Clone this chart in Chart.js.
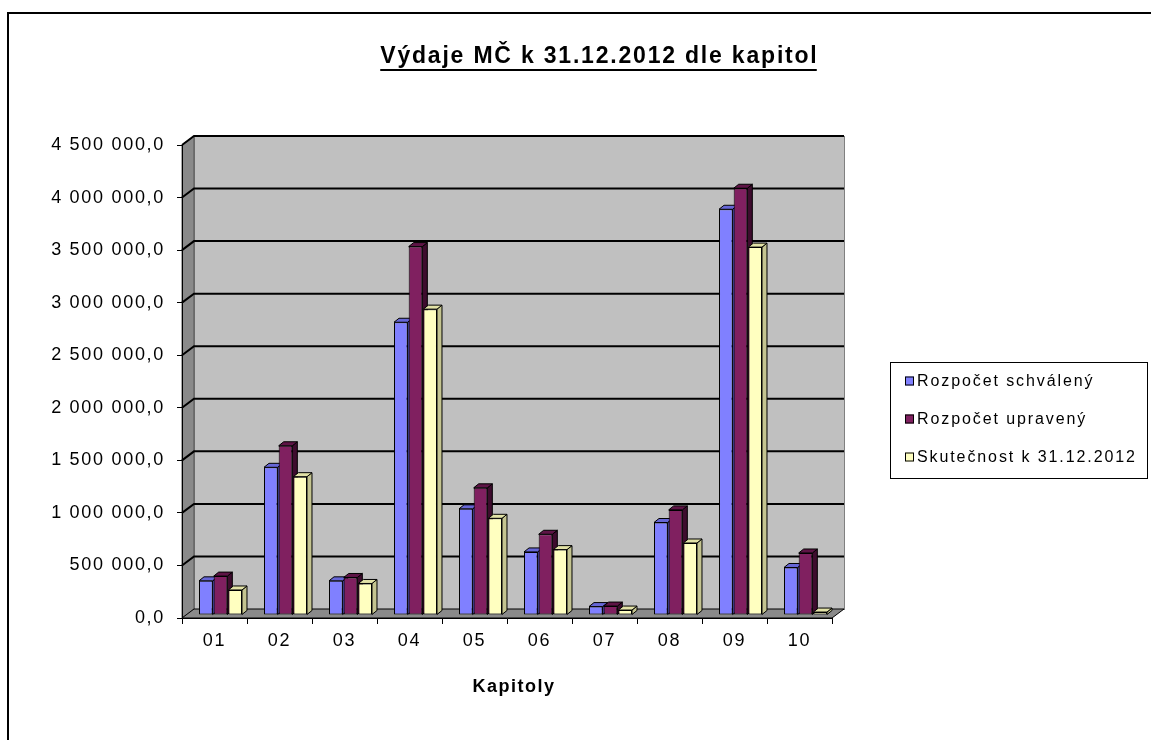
<!DOCTYPE html>
<html>
<head>
<meta charset="UTF-8">
<title>Výdaje MČ k 31.12.2012 dle kapitol</title>
<script src="https://cdn.jsdelivr.net/npm/chart.js@4.4.1/dist/chart.umd.min.js"></script>
<style>
  body { margin: 0; background: #fff; }
  #wrap { position: relative; width: 1151px; height: 740px; }
</style>
</head>
<body>
<div id="wrap"><canvas id="chart"></canvas></div>

<script>
  const TITLE = 'Výdaje MČ k 31.12.2012 dle kapitol';
  const X_TITLE = 'Kapitoly';

  const kapitoly = ['01', '02', '03', '04', '05', '06', '07', '08', '09', '10'];
  const rozpocetSchvaleny = [325000, 1405000, 325000, 2785000, 1010000, 600000, 80000, 880000, 3860000, 452000];
  const rozpocetUpraveny = [370000, 1610000, 357000, 3505000, 1210000, 768000, 85000, 1000000, 4060000, 590000];
  const skutecnost = [238000, 1316000, 300000, 2910000, 920000, 622000, 47000, 685000, 3500000, 28000];
  const seriesNames = ['Rozpočet schválený', 'Rozpočet upravený', 'Skutečnost k 31.12.2012'];

  const Y_MAX = 4500000;
  const Y_STEP = 500000;

  const FONT = "'Liberation Sans', Arial, sans-serif";
  const SPACING = '1.7px';
  const WALL = { dx: 12, dy: -9 };      // depth of the back wall
  const SHIFT = { dx: 6, dy: -3 };      // bars sit half way into the box
  const DEPTH = { dx: 5, dy: -4 };      // depth of each bar
  const colours = [
    { front: '#8080FF', top: '#6666D6', side: '#4A4AA8' },
    { front: '#802060', top: '#5E1446', side: '#3E0C2E' },
    { front: '#FFFFC0', top: '#E2E2A6', side: '#C4C490' }
  ];

  function fmt(v) {
    return Math.round(v).toString().replace(/\B(?=(\d{3})+(?!\d))/g, ' ') + ',0';
  }

  function poly(ctx, pts, fill, stroke) {
    ctx.beginPath();
    ctx.moveTo(pts[0][0], pts[0][1]);
    for (let i = 1; i < pts.length; i++) ctx.lineTo(pts[i][0], pts[i][1]);
    ctx.closePath();
    ctx.fillStyle = fill;
    ctx.fill();
    if (stroke) {
      ctx.strokeStyle = stroke;
      ctx.lineWidth = 1;
      ctx.stroke();
    }
  }

  const box3d = {
    id: 'box3d',
    beforeUpdate(chart) {
      chart.ctx.letterSpacing = SPACING;
    },
    beforeDraw(chart) {
      const ctx = chart.ctx;
      const a = chart.chartArea;
      const y = chart.scales.y;
      const dx = WALL.dx, dy = WALL.dy;
      ctx.letterSpacing = SPACING;
      ctx.save();
      // frame of the sheet
      ctx.fillStyle = '#000';
      ctx.fillRect(7, 12, 1144, 2);
      ctx.fillRect(7, 12, 2, 728);

      // back wall
      ctx.fillStyle = '#C0C0C0';
      ctx.fillRect(a.left + dx, a.top + dy, a.width, a.height);
      ctx.strokeStyle = '#808080';
      ctx.lineWidth = 1;
      ctx.strokeRect(a.left + dx + 0.5, a.top + dy + 0.5, a.width, a.height);
      // left wall
      poly(ctx, [[a.left, a.top], [a.left + dx, a.top + dy], [a.left + dx, a.bottom + dy], [a.left, a.bottom]], '#8A8A8A', '#555');
      // floor
      poly(ctx, [[a.left, a.bottom], [a.left + dx, a.bottom + dy], [a.right + dx, a.bottom + dy], [a.right, a.bottom]], '#8A8A8A', '#000');

      // gridlines on the walls
      ctx.strokeStyle = '#000';
      ctx.lineWidth = 2;
      y.ticks.forEach(t => {
        if (t.value === 0) return;
        const py = y.getPixelForValue(t.value);
        ctx.beginPath();
        ctx.moveTo(a.left, py);
        ctx.lineTo(a.left + dx, py + dy);
        ctx.lineTo(a.right + dx, py + dy);
        ctx.stroke();
      });
      ctx.restore();
    },
    beforeDatasetsDraw(chart) {
      const ctx = chart.ctx;
      ctx.save();
      ctx.translate(SHIFT.dx, SHIFT.dy);
      const dx = DEPTH.dx, dy = DEPTH.dy;
      // tops and sides first, left to right, the fronts cover them afterwards
      const metas = chart.data.datasets.map((d, i) => chart.getDatasetMeta(i));
      for (let j = 0; j < kapitoly.length; j++) {
        metas.forEach((meta, i) => {
          const bar = meta.data[j];
          const p = bar.getProps(['x', 'y', 'base', 'width'], true);
          const L = p.x - p.width / 2, R = p.x + p.width / 2;
          const c = colours[i];
          poly(ctx, [[R, p.y], [R + dx, p.y + dy], [R + dx, p.base + dy], [R, p.base]], c.side, '#000');
          poly(ctx, [[L, p.y], [L + dx, p.y + dy], [R + dx, p.y + dy], [R, p.y]], c.top, '#000');
        });
      }
    },
    afterDatasetsDraw(chart) {
      chart.ctx.restore();
    },
    afterDraw(chart) {
      const ctx = chart.ctx;
      ctx.save();
      ctx.fillStyle = '#000';
      ctx.textBaseline = 'alphabetic';

      // title, underlined
      ctx.font = 'bold 23px ' + FONT;
      ctx.letterSpacing = '1.8px';
      ctx.textAlign = 'left';
      const tw = ctx.measureText(TITLE).width - 1.8;
      const tx = 598.5 - tw / 2;
      ctx.fillText(TITLE, tx, 63);
      ctx.fillRect(tx, 69, tw, 2);

      // axis title
      ctx.font = 'bold 18px ' + FONT;
      ctx.letterSpacing = '1.5px';
      ctx.textAlign = 'center';
      ctx.fillText(X_TITLE, 514, 692);

      // legend
      const lx = 890, ly = 362, lw = 257, lh = 116;
      ctx.strokeStyle = '#000';
      ctx.lineWidth = 1;
      ctx.strokeRect(lx + 0.5, ly + 0.5, lw, lh);
      ctx.font = '16px ' + FONT;
      ctx.letterSpacing = '1.9px';
      ctx.textAlign = 'left';
      ctx.textBaseline = 'middle';
      const rows = [381, 419, 457];
      chart.data.datasets.forEach((ds, i) => {
        ctx.fillStyle = ds.backgroundColor;
        ctx.fillRect(905, rows[i] - 4.5, 9, 9);
        ctx.strokeRect(905.5, rows[i] - 4, 8, 8);
        ctx.fillStyle = '#000';
        ctx.fillText(ds.label, 917, rows[i] + 1);
      });
      ctx.restore();
    }
  };

  const seriesValues = [rozpocetSchvaleny, rozpocetUpraveny, skutecnost];

  new Chart(document.getElementById('chart'), {
    type: 'bar',
    data: {
      labels: kapitoly,
      datasets: seriesValues.map((vals, i) => ({
        label: seriesNames[i],
        data: vals,
        backgroundColor: colours[i].front,
        borderColor: '#000',
        borderWidth: 1,
        borderSkipped: false,
        categoryPercentage: 0.677,
        barPercentage: 0.93,
        clip: false
      }))
    },
    options: {
      responsive: true,
      maintainAspectRatio: false,
      animation: false,
      events: [],
      layout: { padding: { left: 0, right: 319, top: 145, bottom: 82 } },
      plugins: {
        legend: { display: false },
        title: { display: false },
        tooltip: { enabled: false }
      },
      scales: {
        x: {
          grid: { drawOnChartArea: false, offset: true, tickLength: 6, color: '#000' },
          border: { display: true, color: '#000' },
          ticks: { color: '#000', font: { family: FONT, size: 18 }, padding: 6, maxRotation: 0 },
          afterFit: s => { s.height = 40; }
        },
        y: {
          min: 0,
          max: Y_MAX,
          grid: { drawOnChartArea: false, tickLength: 5, color: '#000' },
          border: { display: true, color: '#000' },
          ticks: {
            stepSize: Y_STEP,
            color: '#000',
            font: { family: FONT, size: 18 },
            padding: 12,
            callback: v => fmt(v)
          },
          afterFit: s => { s.width = 182; }
        }
      }
    },
    plugins: [box3d]
  });
</script>
</body>
</html>
